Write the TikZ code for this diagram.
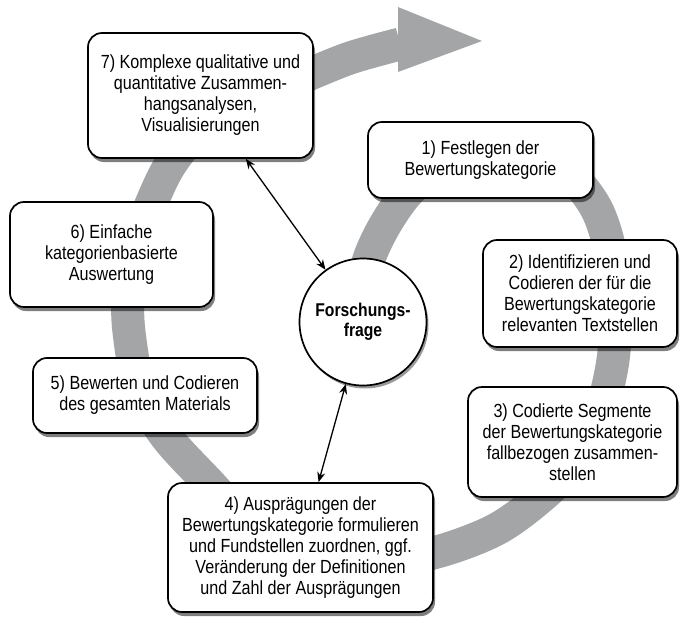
\documentclass[tikz,border=0pt]{standalone}
\usepackage{fontspec}
\setmainfont[FakeStretch=0.85]{Liberation Sans}
\usetikzlibrary{arrows.meta,shadows}
\definecolor{bandgray}{RGB}{163,165,167}

\begin{document}
\begin{tikzpicture}[x=1pt, y=-1pt,
    band/.style={draw=bandgray, line width=33pt},
    box/.style={draw=black, line width=1.7pt, fill=white, rounded corners=14pt,
        align=center, inner sep=0pt, font=\fontsize{19}{21}\selectfont,
        drop shadow={shadow xshift=2pt, shadow yshift=-4pt, opacity=0.5, fill=black}},
    frage/.style={circle, draw=black, line width=1.7pt, fill=white, align=center,
        minimum size=127pt, inner sep=0pt, font=\fontsize{18.5}{20}\selectfont\bfseries,
        drop shadow={shadow xshift=2pt, shadow yshift=-3pt, opacity=0.4, fill=black}},
    link/.style={{Stealth[length=10pt,width=8pt]}-{Stealth[length=10pt,width=8pt]}, line width=1.3pt}
]

    \useasboundingbox (0, 0) rectangle (680, 618);

    % spiral band
    \draw[band] plot[smooth, tension=0.55] coordinates {
        (362, 300) (368, 262) (385, 225) (410, 190) (445, 163) (490, 150)
        (535, 155) (570, 175) (596, 208) (610, 250) (615, 300) (613, 360)
        (598, 420) (572, 465) (541, 497) (495, 530) (433, 553) (370, 562)
        (300, 552) (250, 525) (208, 482) (165, 435) (140, 390) (130, 340)
        (128, 300) (136, 245) (152, 202) (172, 162) (205, 124) (250, 97)
        (300, 78) (350, 58) (400, 44)};
    \fill[bandgray] (398, 7) -- (482, 41) -- (398, 72) -- cycle;

    \node[box, minimum width=225pt, minimum height=125pt] (b7) at (200.5, 95.5)
        {7) Komplexe qualitative und\\quantitative Zusammen-\\hangsanalysen,\\Visualisierungen};
    \node[box, minimum width=225pt, minimum height=76pt] (b1) at (480.5, 160)
        {1) Festlegen der\\Bewertungskategorie};
    \node[box, minimum width=194pt, minimum height=107pt] (b2) at (580, 293.5)
        {2) Identifizieren und\\Codieren der für die\\Bewertungskategorie\\relevanten Textstellen};
    \node[box, minimum width=209pt, minimum height=110pt] (b3) at (572.5, 442)
        {3) Codierte Segmente\\der Bewertungskategorie\\fallbezogen zusammen-\\stellen};
    \node[box, minimum width=265pt, minimum height=129pt] (b4) at (300.5, 547.5)
        {4) Ausprägungen der\\Bewertungskategorie formulieren\\und Fundstellen zuordnen, ggf.\\Veränderung der Definitionen\\und Zahl der Ausprägungen};
    \node[box, minimum width=224pt, minimum height=75pt] (b5) at (145, 395.5)
        {5) Bewerten und Codieren\\des gesamten Materials};
    \node[box, minimum width=203pt, minimum height=105pt] (b6) at (111.5, 254.5)
        {6) Einfache\\kategorienbasierte\\Auswertung};

    \node[frage] (q) at (363, 322) {Forschungs-\\frage};

    \draw[link] (q) -- (b7);
    \draw[link] (q) -- (b4);

\end{tikzpicture}
\end{document}
